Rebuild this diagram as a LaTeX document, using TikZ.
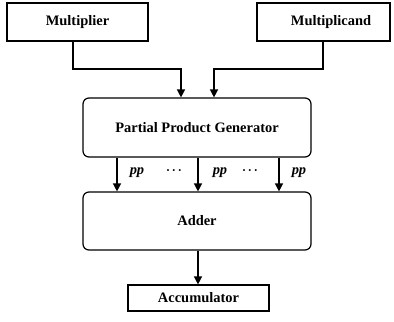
\documentclass[tikz,border=0pt]{standalone}
\usepackage{fontspec}
\setmainfont{Liberation Serif}
\usetikzlibrary{arrows.meta}
\begin{document}
\begin{tikzpicture}[x=1bp,y=-1bp,
  blk/.style={draw,line width=1.2bp,inner sep=0pt,font=\bfseries\fontsize{14.5}{16}\selectfont},
  rblk/.style={blk,rounded corners=6bp},
  arr/.style={line width=1.4bp,-{Triangle[width=8bp,length=8bp]}},
  lbl/.style={font=\bfseries\itshape\fontsize{14.5}{16}\selectfont,inner sep=0pt},
  dots/.style={inner sep=0pt,font=\bfseries\fontsize{12}{14}\selectfont}]
\useasboundingbox (0,0) rectangle (394,322);
\node[blk,minimum width=141bp,minimum height=38bp] (mult) at (77.5,22) {Multiplier\hspace{14bp}};
\node[blk,minimum width=133bp,minimum height=38bp] (mcand) at (323.5,22) {\hspace{15bp}Multiplicand};
\node[rblk,minimum width=228bp,minimum height=59bp] (ppg) at (197,127.5) {Partial Product Generator};
\node[rblk,minimum width=228bp,minimum height=58bp] (adder) at (197,221) {Adder};
\node[blk,minimum width=141bp,minimum height=26bp] (acc) at (198.5,298) {Accumulator};
\coordinate (j1) at (181,69);
\coordinate (j2) at (214,69);
\draw[arr] (73,0 |- mult.south) |- (j1) -- (j1 |- ppg.north);
\draw[arr] (323,0 |- mcand.south) |- (j2) -- (j2 |- ppg.north);
\draw[arr] (117,0 |- ppg.south) -- (117,0 |- adder.north);
\draw[arr] (198,0 |- ppg.south) -- (198,0 |- adder.north);
\draw[arr] (279,0 |- ppg.south) -- (279,0 |- adder.north);
\node[lbl] (pp1) at (137,173) {pp};
\node[lbl] (pp2) at (220,173) {pp};
\node[lbl] (pp3) at (299,173) {pp};
\node[dots] (d1) at (174,172) {·\,·\,·};
\node[dots] (d2) at (250,172) {·\,·\,·};
\draw[arr] (adder.south -| 198,0) -- (198,0 |- acc.north);
\end{tikzpicture}
\end{document}
